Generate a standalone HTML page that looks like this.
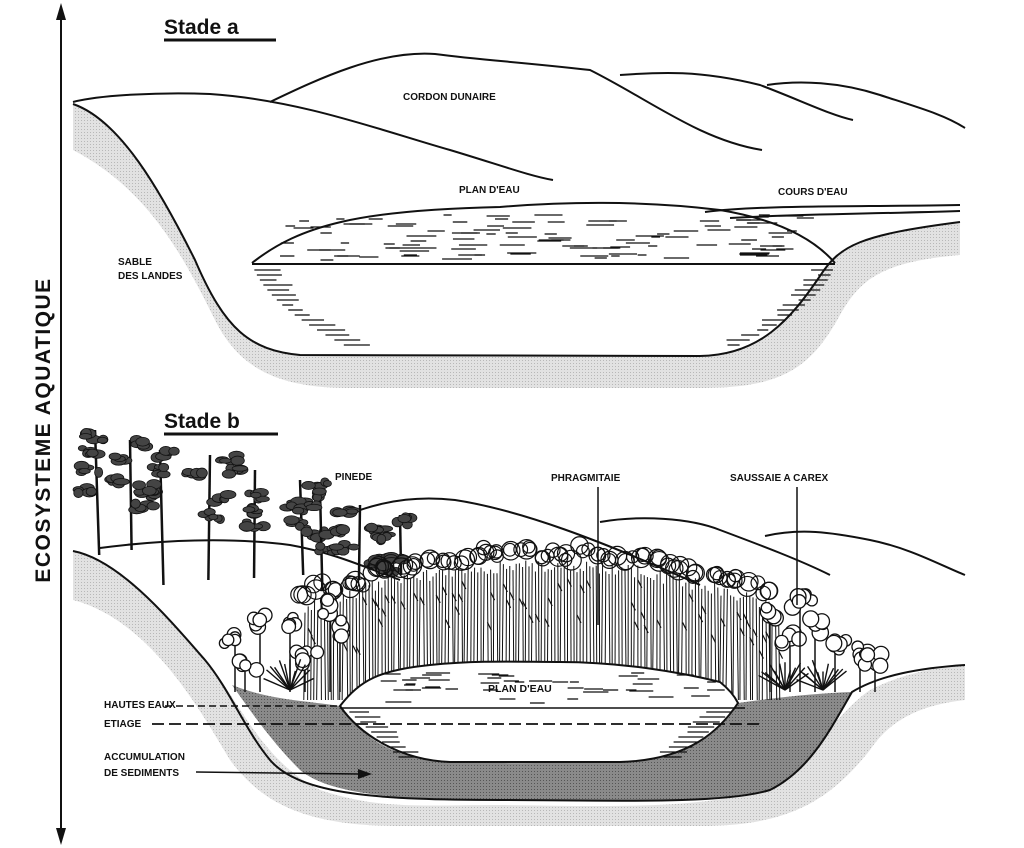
<!DOCTYPE html>
<html><head><meta charset="utf-8"><style>
html,body{margin:0;padding:0;background:#fff;}
svg{display:block}
text{font-family:"Liberation Sans",sans-serif;font-weight:bold;fill:#111}
</style></head><body>
<svg id="s" width="1024" height="848" viewBox="0 0 1024 848" xmlns="http://www.w3.org/2000/svg">
<defs>
<pattern id="dots" width="3" height="3" patternUnits="userSpaceOnUse"><rect width="3" height="3" fill="#e2e2e2"/><rect width="1" height="1" fill="#b8b8b8"/></pattern>
<pattern id="dark" width="3" height="3" patternUnits="userSpaceOnUse"><rect width="3" height="3" fill="#8a8a8a"/><rect width="1" height="1" fill="#555"/></pattern>
</defs>
<rect width="1024" height="848" fill="#fff"/>
<line x1="61" y1="8" x2="61" y2="840" stroke="#111" stroke-width="2"/>
<polygon points="61,3 56,20 66,20" fill="#111"/>
<polygon points="61,845 56,828 66,828" fill="#111"/>
<text transform="translate(50,430) rotate(-90)" text-anchor="middle" font-size="21" letter-spacing="1.5">ECOSYSTEME AQUATIQUE</text>

<text x="164" y="34" font-size="21">Stade a</text>
<line x1="164" y1="40" x2="276" y2="40" stroke="#111" stroke-width="3"/>
<path d="M73,104 C120,120 160,190 195,260 C225,330 250,350 300,355 L700,356 C760,355 790,320 820,276 C840,245 860,235 960,222 L960,255 C880,262 860,280 840,315 C810,370 780,388 700,388 L350,388 C280,388 240,370 215,320 C185,260 150,190 73,150 Z" fill="url(#dots)"/>
<path d="M73,104 C120,120 160,190 195,260 C225,330 250,350 300,355 L700,356 C760,355 790,320 820,276 C840,245 860,235 960,222" fill="none" stroke="#111" stroke-width="2"/>
<g fill="none" stroke="#111" stroke-width="2">
<path d="M73,102 C100,95 160,92 210,94 C300,100 380,130 450,150 C500,165 530,176 553,180"/>
<path d="M270,102 C320,78 380,50 435,54 C480,60 520,62 590,70 C650,100 700,140 762,150"/>
<path d="M620,75 C660,72 700,70 760,85 C800,100 830,115 853,120"/>
<path d="M767,85 C800,80 840,82 880,95 C920,108 945,115 965,128"/>
<path d="M252,263 C300,225 360,210 500,207 C560,202 640,200 720,210 C780,220 815,240 835,263"/>
<line x1="252" y1="264" x2="835" y2="264"/>
<path d="M705,212 C760,205 850,207 960,205"/>
<path d="M730,218 C800,214 870,214 960,211"/>
</g>
<g id="hatchA" stroke="#111" stroke-width="1.3"></g>

<text x="403" y="100" font-size="10">CORDON DUNAIRE</text>
<text x="459" y="193" font-size="10">PLAN D'EAU</text>
<text x="778" y="195" font-size="10">COURS D'EAU</text>
<text x="118" y="265" font-size="10">SABLE</text>
<text x="118" y="279" font-size="10">DES LANDES</text>

<text x="164" y="428" font-size="21">Stade b</text>
<line x1="164" y1="434" x2="278" y2="434" stroke="#111" stroke-width="3"/>
<g fill="none" stroke="#111" stroke-width="2">
<path d="M100,548 C160,540 230,537 290,545 C330,552 360,565 400,580"/>
<path d="M360,510 C390,500 420,496 455,500 C520,510 600,540 700,585"/>
<path d="M600,522 C640,515 690,518 720,530 C760,545 800,560 830,575"/>
<path d="M765,536 C800,528 830,532 870,540 C910,548 940,565 965,575"/>
</g>
<path d="M73,551 C120,560 170,620 205,660 C240,700 260,760 320,790 C380,810 420,805 500,805 C600,806 700,810 760,790 C810,760 840,710 870,690 C900,675 930,668 965,665 L965,700 C920,705 890,720 870,750 C830,800 790,826 700,826 L400,826 C300,826 260,800 230,760 C200,710 150,620 73,600 Z" fill="url(#dots)"/>
<path d="M232,685 C270,700 300,700 340,706 C380,760 420,762 500,763 C600,764 690,760 738,703 C780,697 820,693 852,692 C830,730 810,770 770,790 C700,805 600,800 500,800 C400,800 330,795 300,770 C270,740 250,710 232,685 Z" fill="url(#dark)"/>
<path d="M73,551 C120,560 170,620 205,660 C230,690 245,730 270,760 C300,795 380,800 500,800 C600,800 720,805 770,790 C810,770 830,730 852,692 C880,675 920,668 965,665" fill="none" stroke="#111" stroke-width="2"/>
<g id="veg"></g>
<path d="M340,706 C360,680 380,670 430,665 C480,660 520,662 560,662 C620,662 680,672 720,682 C730,690 735,697 738,703 C720,730 690,760 620,762 L450,762 C400,760 360,735 340,706 Z" fill="#fff" stroke="#111" stroke-width="2"/>
<line x1="340" y1="708" x2="745" y2="708" stroke="#111" stroke-width="1.5"/>
<g id="hatchB" stroke="#111" stroke-width="1.3"></g>
<line x1="165" y1="706" x2="340" y2="706" stroke="#111" stroke-width="1.5" stroke-dasharray="7,4"/>
<line x1="152" y1="724" x2="760" y2="724" stroke="#111" stroke-width="1.8" stroke-dasharray="12,5"/>
<line x1="196" y1="772" x2="360" y2="774" stroke="#111" stroke-width="1.5"/>
<polygon points="372,774 358,769 358,779" fill="#111"/>
<line x1="598" y1="487" x2="598" y2="625" stroke="#111" stroke-width="1.5"/>
<line x1="797" y1="487" x2="797" y2="605" stroke="#111" stroke-width="1.5"/>
<text x="335" y="480" font-size="10">PINEDE</text>
<text x="551" y="481" font-size="10">PHRAGMITAIE</text>
<text x="730" y="481" font-size="10">SAUSSAIE A CAREX</text>
<text x="488" y="692" font-size="10.5">PLAN D'EAU</text>
<text x="104" y="708" font-size="10">HAUTES EAUX</text>
<text x="104" y="727" font-size="10">ETIAGE</text>
<text x="104" y="760" font-size="10">ACCUMULATION</text>
<text x="104" y="776" font-size="10">DE SEDIMENTS</text>
</svg>
<script>
(function(){
var seed=7;function r(){seed=(seed*16807)%2147483647;return (seed-1)/2147483646;}
var NS="http://www.w3.org/2000/svg";
function el(p,t,a){var e=document.createElementNS(NS,t);for(var k in a)e.setAttribute(k,a[k]);p.appendChild(e);return e;}
var hA=document.getElementById('hatchA');
for(var i=0;i<110;i++){var x=280+r()*520,y=215+r()*45;var w=8+r()*22;el(hA,'line',{x1:x,y1:y.toFixed(0),x2:x+w,y2:y.toFixed(0)});}
for(var y=270;y<350;y+=5){var t=(y-264)/90;var lx=252+t*t*80+t*30;el(hA,'line',{x1:lx,y1:y,x2:lx+10+r()*20,y2:y});var rx=835-t*t*90-t*25;el(hA,'line',{x1:rx-10-r()*20,y1:y,x2:rx,y2:y});}
var v=document.getElementById('veg');
function blob(cx,cy,rad,n){for(var k=0;k<n;k++){var a=r()*6.28,rr=r()*rad;var x=cx+Math.cos(a)*rr,y=cy+Math.sin(a)*rr*0.8,s=rad*0.35+r()*rad*0.3;el(v,'circle',{cx:x,cy:y,r:s,fill:'#fff',stroke:'#111','stroke-width':1.3});}}
var pines=[[95,430,555],[130,440,550],[160,450,585],[210,455,580],[255,470,578],[300,480,575],[320,490,590],[360,505,580],[400,515,575]];
pines.forEach(function(p){el(v,'line',{x1:p[0],y1:p[1],x2:p[0]+(r()-0.5)*10,y2:p[2],stroke:'#111','stroke-width':2.5});
for(var k=0;k<4;k++){var cx=p[0]+(r()-0.5)*40,cy=p[1]+k*18+r()*8;for(var j=0;j<6;j++){el(v,'ellipse',{cx:cx+(r()-0.5)*20,cy:cy+(r()-0.5)*8,rx:4+r()*4,ry:2.5+r()*2.5,fill:'#444',stroke:'#111','stroke-width':0.8});}}});
var crowns=[];
for(var x=305;x<=780;x+=14){var t=(x-540)/240;var tp=552+t*t*45+(r()-0.5)*10;crowns.push([x,tp]);}
for(var x=305;x<=780;x+=3.2){var t=(x-540)/240;var tp=565+t*t*45+(r()-0.5)*14;el(v,'line',{x1:x,y1:tp,x2:x+(r()-0.5)*3,y2:700,stroke:'#111','stroke-width':1});if(r()<0.5){var yy=tp+10+r()*40;el(v,'line',{x1:x,y1:yy,x2:x+4,y2:yy+8,stroke:'#111','stroke-width':1.2});}}
crowns.forEach(function(c){for(var j=0;j<3;j++)el(v,'circle',{cx:c[0]+(r()-0.5)*12,cy:c[1]+(r()-0.5)*8,r:6+r()*4,fill:'none',stroke:'#111','stroke-width':1.2});});
[[235,640],[260,620],[290,625],[305,655],[245,665],[330,605],[340,630]].forEach(function(b){el(v,'line',{x1:b[0],y1:b[1],x2:b[0],y2:692,stroke:'#111','stroke-width':1.5});blob(b[0],b[1],13,6);});
[[770,610],[790,640],[815,625],[835,645],[860,655],[875,660],[800,600]].forEach(function(b){el(v,'line',{x1:b[0],y1:b[1],x2:b[0],y2:692,stroke:'#111','stroke-width':1.5});blob(b[0],b[1],13,6);});
[[290,690],[785,690],[823,690]].forEach(function(g){for(var k=0;k<12;k++){var a=(k-6)*0.18;el(v,'line',{x1:g[0],y1:g[1],x2:g[0]+Math.sin(a)*30,y2:g[1]-Math.cos(a)*30*(0.6+r()*0.5),stroke:'#111','stroke-width':1.4});}});
var hB=document.getElementById('hatchB');
for(var i=0;i<45;i++){var x=380+r()*330,y=672+r()*32;el(hB,'line',{x1:x,y1:y.toFixed(0),x2:x+8+r()*18,y2:y.toFixed(0)});}
for(var y=712;y<758;y+=5){var t=(y-708)/55;el(hB,'line',{x1:345+t*60,y1:y,x2:360+t*60+r()*15,y2:y});el(hB,'line',{x1:720-t*60-r()*15,y1:y,x2:735-t*60,y2:y});}
})();
</script>
</body></html>
